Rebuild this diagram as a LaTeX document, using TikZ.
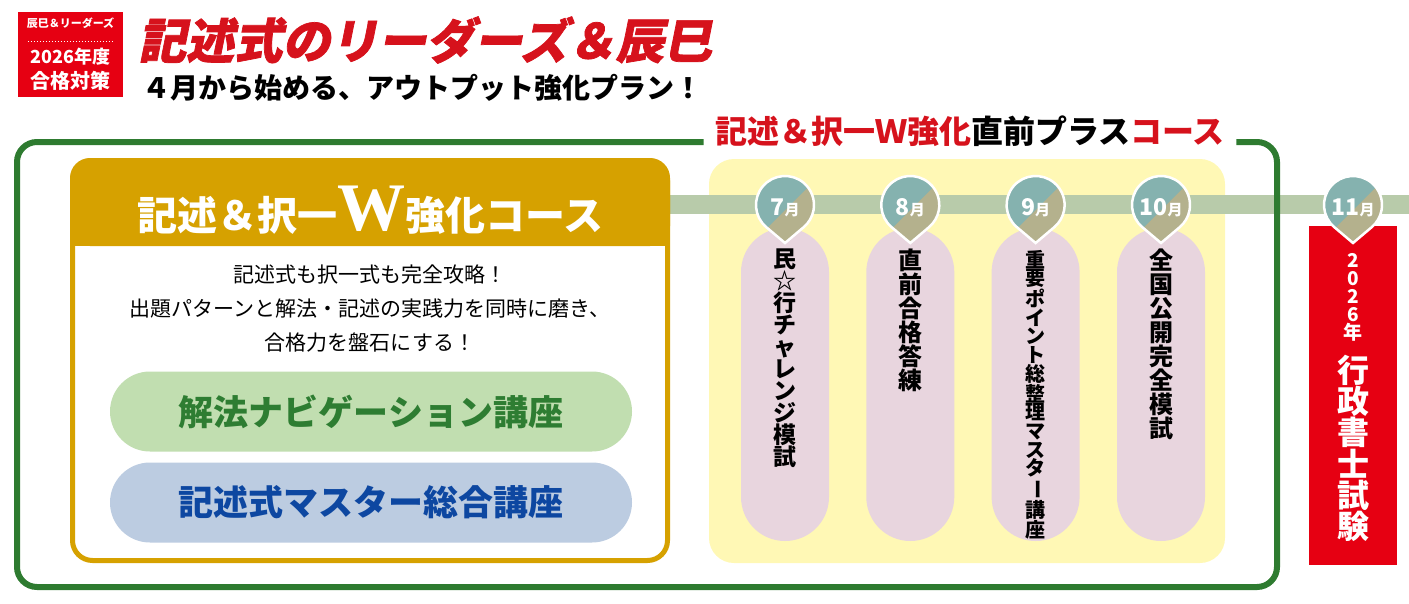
\documentclass[tikz,border=0pt]{standalone}
\usepackage{fontspec}
\usepackage{graphicx}
\setmainfont{Noto Sans CJK JP}
\newfontfamily\logofont{Noto Sans CJK JP}[BoldFeatures={FakeSlant=0.2,FakeBold=1.5}]
\newfontfamily\wfont{Liberation Serif}
\usetikzlibrary{positioning}
\definecolor{badgered}{RGB}{230,0,18}
\definecolor{logored}{RGB}{214,18,28}
\definecolor{framegreen}{RGB}{46,123,48}
\definecolor{coursegold}{RGB}{214,161,0}
\definecolor{plusyellow}{RGB}{255,248,181}
\definecolor{bandgreen}{RGB}{184,203,170}
\definecolor{pillpink}{RGB}{232,213,222}
\definecolor{pinteal}{RGB}{133,178,175}
\definecolor{pinkhaki}{RGB}{180,177,141}
\definecolor{navifill}{RGB}{193,222,176}
\definecolor{navitext}{RGB}{46,125,50}
\definecolor{masterfill}{RGB}{188,204,225}
\definecolor{mastertext}{RGB}{13,71,161}
\tikzstyle{coursepill} = [rectangle, rounded corners=40pt, minimum width=522pt, minimum height=80pt, font=\fontsize{35}{35}\selectfont\bfseries]
\tikzstyle{monthpill} = [rectangle, rounded corners=44pt, fill=pillpink, minimum width=88pt, minimum height=313pt]
\tikzstyle{vtext} = [align=center, inner sep=0pt, anchor=north]
\tikzstyle{monthtext} = [white, inner sep=0pt, font=\fontsize{23}{23}\selectfont\bfseries]
\tikzset{
  monthpin/.pic={
    \begin{scope}
      \clip (0,38) -- (130.3:29) arc[start angle=130.3, end angle=409.7, radius=29] -- cycle;
      \fill[pinkhaki] (-40,-40) rectangle (40,45);
      \fill[pinteal] (-45,50) -- (40,-35) -- (-45,-35) -- cycle;
    \end{scope}
    \draw[white, line width=2.5pt] (0,38) -- (130.3:29) arc[start angle=130.3, end angle=409.7, radius=29] -- cycle;
    \node[monthtext] (-label) at (0,3) {#1{\fontsize{15}{15}\selectfont 月}};
  }
}

\begin{document}
\begin{tikzpicture}[x=1pt, y=-1pt]
\useasboundingbox (0,0) rectangle (1409,603);
% title block
\node[rectangle, fill=badgered, minimum width=105pt, minimum height=85pt] (badge) at (70.5,54.5) {};
\node[white, font=\fontsize{11}{11}\selectfont\bfseries] (badgetop) at (70.5,23) {辰巳＆リーダーズ};
\draw[white, dotted, line width=1pt] ([xshift=10pt]badge.west |- 0,41) -- ([xshift=-10pt]badge.east |- 0,41);
\node[white, font=\fontsize{18}{18}\selectfont\bfseries] (badgeyear) at (70.5,57) {2026年度};
\node[white, font=\fontsize{20}{20}\selectfont\bfseries] (badgegoal) at (70.5,81) {合格対策};
\node[anchor=west, inner sep=0pt, logored, font=\fontsize{48}{48}\logofont\bfseries] (logo) at (138,40) {記述式のリーダーズ＆辰巳};
\node[anchor=west, inner sep=0pt, font=\fontsize{28}{28}\selectfont\bfseries] (slogan) at (142,88) {４月から始める、アウトプット強化プラン！};

% plus course area and timeline
\node[rectangle, fill=plusyellow, rounded corners=25pt, minimum width=516pt, minimum height=404pt] (plusarea) at (967,361) {};
\coordinate (bandstart) at (660,204.5);
\coordinate (bandend) at (1409,204.5);
\draw[bandgreen, line width=19pt] (bandstart) -- (bandend);

% W course
\node[rectangle, draw=coursegold, fill=white, line width=5pt, rounded corners=20pt, minimum width=595pt, minimum height=400pt] (wcourse) at (370,360.5) {};
\fill[coursegold, rounded corners=20pt] (wcourse.north west) rectangle (wcourse.east |- 0,246);
\fill[coursegold] (wcourse.west |- 0,220) rectangle (wcourse.east |- 0,246);
\node[white, font=\fontsize{40}{40}\selectfont\bfseries] (whead) at (370,210) {記述＆択一{\wfont\fontsize{68}{68}\selectfont W}強化コース};
\node[align=center, font=\fontsize{21}{34}\selectfont] (wdesc) at (370,309) {記述式も択一式も完全攻略！\\出題パターンと解法・記述の実践力を同時に磨き、\\合格力を盤石にする！};
\node[coursepill, fill=navifill, text=navitext] (navi) at (371,411.5) {解法ナビゲーション講座};
\node[coursepill, fill=masterfill, text=mastertext] (master) at (371,502.5) {記述式マスター総合講座};

% outer frame
\node[font=\fontsize{32}{32}\selectfont\bfseries] (plustitle) at (970,131) {{\color{logored}記述＆択一Ｗ強化}直前プラス{\color{logored}コース}};
\draw[framegreen, line width=6pt, rounded corners=20pt] ([xshift=-8pt]plustitle.west |- 0,142) -| (17,587) -| (1277,142) -- ([xshift=8pt]plustitle.east |- 0,142);

% months
\node[monthpill] (jul) at (785,384.5) {};
\node[monthpill] (aug) at (910.3,384.5) {};
\node[monthpill] (sep) at (1035.6,384.5) {};
\node[monthpill] (oct) at (1161,384.5) {};
\node[vtext, font=\fontsize{23}{22}\selectfont\bfseries] (jultext) at ([yshift=-21pt]jul.north) {民\\☆\\行\\チ\\ャ\\レ\\ン\\ジ\\模\\試};
\node[vtext, font=\fontsize{24}{24}\selectfont\bfseries] (augtext) at ([yshift=-21pt]aug.north) {直\\前\\合\\格\\答\\練};
\node[vtext, font=\fontsize{20}{18.7}\selectfont\bfseries] (septext) at ([yshift=-22pt]sep.north) {重\\要\\ポ\\イ\\ン\\ト\\総\\整\\理\\マ\\ス\\タ\\\rotatebox[origin=c]{-90}{ー}\\講\\座};
\node[vtext, font=\fontsize{24}{24}\selectfont\bfseries] (octtext) at ([yshift=-21pt]oct.north) {全\\国\\公\\開\\完\\全\\模\\試};
\pic (pinjul) at (785,205) {monthpin=7};
\pic (pinaug) at (910.3,205) {monthpin=8};
\pic (pinsep) at (1035.6,205) {monthpin=9};
\pic (pinoct) at (1161,205) {monthpin=10};

% exam
\node[rectangle, fill=badgered, minimum width=88pt, minimum height=339pt] (exambox) at (1353,395.5) {};
\node[vtext, white, font=\fontsize{19}{18}\selectfont\bfseries] (examyear) at ([yshift=-27pt]exambox.north) {2\\0\\2\\6\\年};
\node[vtext, white, font=\fontsize{32}{31.3}\selectfont\bfseries] (examname) at ([yshift=-129pt]exambox.north) {行\\政\\書\\士\\試\\験};
\pic (pinnov) at (1353,205) {monthpin=11};
\end{tikzpicture}
\end{document}
